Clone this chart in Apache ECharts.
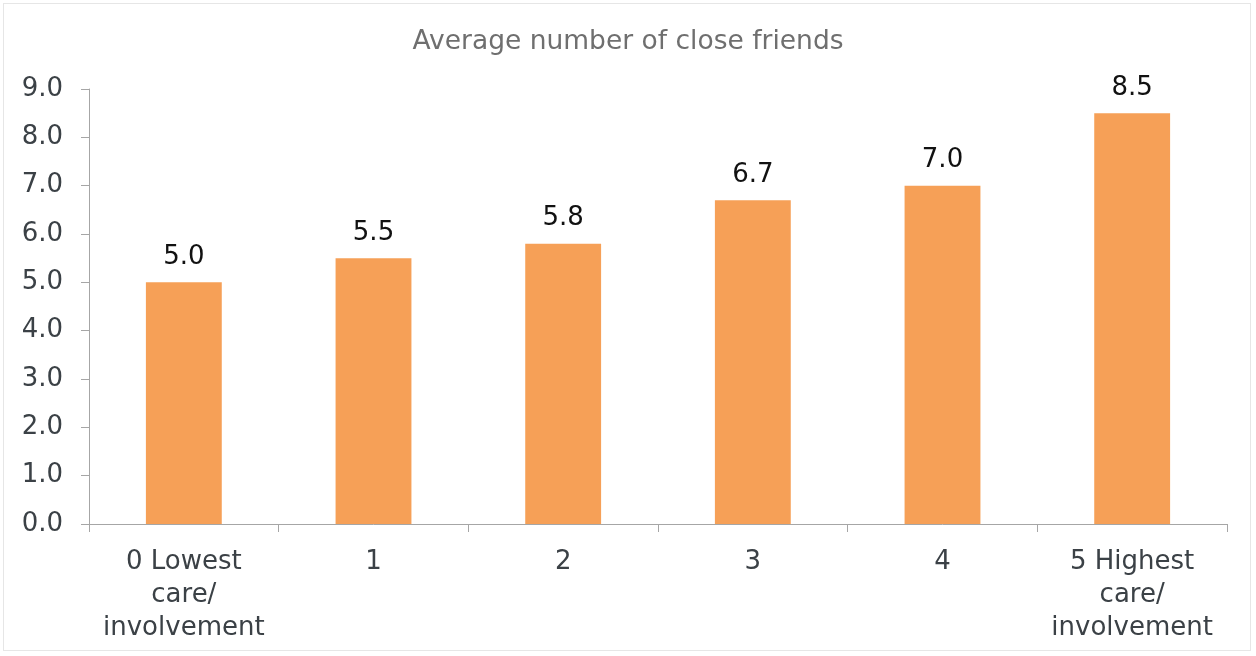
<!DOCTYPE html>
<html><head><meta charset="utf-8">
<script src="https://cdn.jsdelivr.net/npm/echarts@6/dist/echarts.min.js"></script>
<style>html,body{margin:0;padding:0;background:#fff}#c{width:1256px;height:656px}
#frame{position:absolute;left:3px;top:3px;width:1248px;height:648px;border:1px solid #e6e6e6;pointer-events:none;box-sizing:border-box}</style>
</head><body><div id="c"></div><div id="frame"></div>
<script>
const titleText = 'Average number of close friends';
const categories = ['0 Lowest\ncare/\ninvolvement', '1', '2', '3', '4', '5 Highest\ncare/\ninvolvement'];
const values = [5.0, 5.5, 5.8, 6.7, 7.0, 8.5];
const yMin = 0, yMax = 9, yStep = 1;

const chart = echarts.init(document.getElementById('c'));
chart.setOption({
  animation: false,
  title: { text: titleText, left: 'center', top: 24,
    textStyle: { fontFamily: 'DejaVu Sans', fontSize: 26.5, fontWeight: 'normal', color: '#6f6f6f' } },
  grid: { left: 89, right: 29, top: 89, bottom: 132, containLabel: false },
  xAxis: { type: 'category', data: categories,
    axisLine: { lineStyle: { color: '#a6a6a6', width: 1 } },
    axisTick: { show: true, length: 8, alignWithLabel: false, lineStyle: { color: '#a6a6a6' } },
    axisLabel: { fontFamily: 'DejaVu Sans', fontSize: 26, color: '#3b4146', margin: 22, lineHeight: 33, interval: 0 } },
  yAxis: { type: 'value', min: yMin, max: yMax, interval: yStep,
    axisLine: { show: true, lineStyle: { color: '#a6a6a6', width: 1 } },
    axisTick: { show: true, length: 8, lineStyle: { color: '#a6a6a6' } },
    splitLine: { show: false },
    axisLabel: { fontFamily: 'DejaVu Sans', fontSize: 26, color: '#3b4146', margin: 26,
      formatter: v => v.toFixed(1) } },
  series: [{ type: 'bar', data: values, barWidth: '40%',
    itemStyle: { color: '#f6a057' },
    label: { show: true, position: 'top', distance: 12, fontFamily: 'DejaVu Sans', fontSize: 26, color: '#111',
      formatter: p => p.value.toFixed(1) } }]
});
</script></body></html>
